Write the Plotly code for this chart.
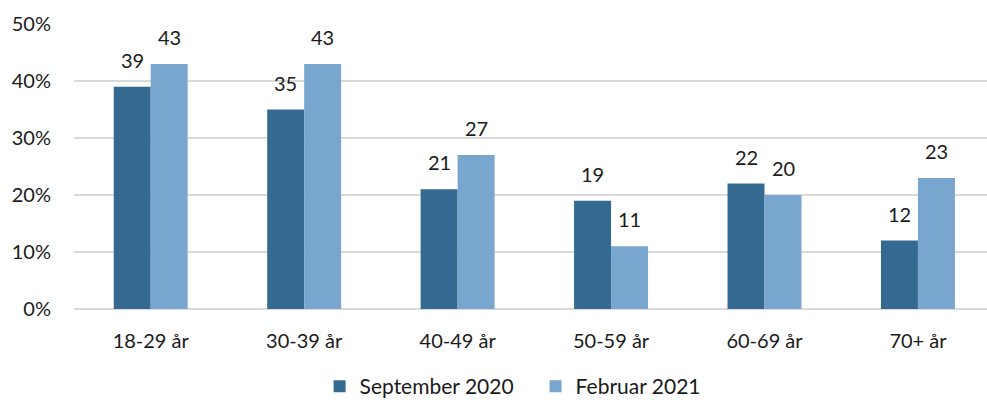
import plotly.graph_objects as go

categories = ["18-29 år", "30-39 år", "40-49 år", "50-59 år", "60-69 år", "70+ år"]
sep2020 = [39, 35, 21, 19, 22, 12]
feb2021 = [43, 43, 27, 11, 20, 23]
series_names = ["September 2020", "Februar 2021"]
y_ticks = [0, 10, 20, 30, 40, 50]
y_tick_labels = ["0%", "10%", "20%", "30%", "40%", "50%"]

dark = "#346A91"
light = "#79A6CF"
FONT = "Lato"
FS = 20

fig = go.Figure()
fig.add_trace(go.Bar(x=categories, y=sep2020, name=series_names[0], marker_color=dark,
                     marker_line_width=0))
fig.add_trace(go.Bar(x=categories, y=feb2021, name=series_names[1], marker_color=light,
                     marker_line_width=0))

annotations = []
for i, cat in enumerate(categories):
    for vals, shift in ((sep2020, -18.5), (feb2021, 18.5)):
        annotations.append(dict(x=cat, y=vals[i], xref="x", yref="y", text=str(vals[i]),
                                showarrow=False, xshift=shift, yshift=13, yanchor="bottom",
                                font=dict(size=FS, color="#1a1a1a", family=FONT)))

fig.update_layout(
    width=987, height=403,
    margin=dict(l=74, r=0, t=24, b=94, autoexpand=False),
    plot_bgcolor="white", paper_bgcolor="white",
    barmode="group", bargap=0.518, bargroupgap=0,
    font=dict(family=FONT, size=FS, color="#1a1a1a"),
    annotations=annotations,
    showlegend=True,
    legend=dict(orientation="h", x=0.269, xref="paper", xanchor="left", y=-0.2, yanchor="top",
                font=dict(size=21), itemwidth=30, traceorder="normal",
                entrywidth=171, entrywidthmode="pixels"),
    xaxis=dict(range=[-0.5, 5.45], showline=False, ticks="", tickfont=dict(size=FS),
               showgrid=False, automargin=False),
    yaxis=dict(range=[0, 50], tickvals=y_ticks, ticktext=y_tick_labels, showgrid=True,
               gridcolor="#D9D9D9", gridwidth=1.5, zeroline=True, zerolinecolor="#D9D9D9",
               zerolinewidth=1.5, ticks="", ticklen=0, tickfont=dict(size=FS), automargin=False),
)
fig.update_yaxes(ticklabelstandoff=22)
fig.update_xaxes(ticklabelstandoff=18)

fig.write_html("out.html", config={"displayModeBar": False},
               post_script="document.body.style.margin='0';document.body.style.overflow='hidden';")
